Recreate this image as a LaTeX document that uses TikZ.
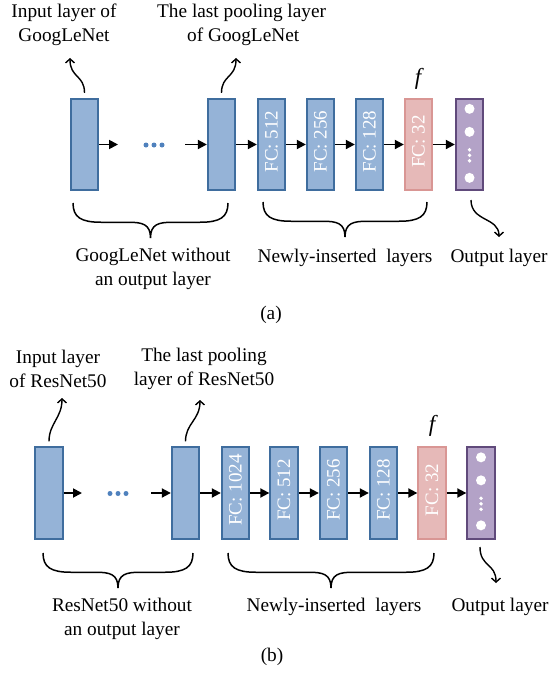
\documentclass[tikz,border=0pt]{standalone}
\usepackage{fontspec}
\setmainfont{Liberation Serif}
\usetikzlibrary{arrows.meta}

\definecolor{layerblue}{HTML}{95B3D7}
\definecolor{layerblueedge}{HTML}{3F6D9E}
\definecolor{fcpink}{HTML}{E6B9B8}
\definecolor{fcpinkedge}{HTML}{D99694}
\definecolor{outpurple}{HTML}{B3A2C7}
\definecolor{outpurpleedge}{HTML}{604A7B}
\definecolor{dotblue}{HTML}{4F81BD}

% curly brace opening downwards: left x, right x, top y, tip y
\newcommand\layerbrace[4]{%
  \pgfmathsetmacro\bmid{(#1+#2)/2}%
  \pgfmathsetmacro\bbar{#3+0.55*(#4-#3)}%
  \draw[bracestyle] (#1,#3) .. controls (#1,\bbar-5) and (#1+8,\bbar) .. (#1+28,\bbar)
    -- (\bmid-22,\bbar) .. controls (\bmid-8,\bbar) and (\bmid,\bbar+2) .. (\bmid,#4)
    .. controls (\bmid,\bbar+2) and (\bmid+8,\bbar) .. (\bmid+22,\bbar)
    -- (#2-28,\bbar) .. controls (#2-8,\bbar) and (#2,\bbar-5) .. (#2,#3);}

\begin{document}
\begin{tikzpicture}[x=1pt,y=-1pt,
  txt/.style={font=\fontsize{19.3}{24}\selectfont, inner sep=0pt, align=center},
  boxbase/.style={line width=1.8pt, minimum width=27.5pt, minimum height=91.5pt,
    inner sep=0pt, text=white, font=\fontsize{19}{19}\selectfont},
  layer/.style={boxbase, draw=layerblueedge, fill=layerblue},
  fcf/.style={boxbase, draw=fcpinkedge, fill=fcpink},
  outlayer/.style={boxbase, draw=outpurpleedge, fill=outpurple},
  flow/.style={line width=1.8pt, -{Triangle[length=9pt,width=9pt]}},
  wave/.style={line width=1.4pt, -{Straight Barb[length=4pt,width=9pt]}},
  bracestyle/.style={line width=1.5pt},
  unit/.style={circle, fill=white, inner sep=0pt, minimum size=10pt},
  tinydot/.style={circle, fill=white, inner sep=0pt, minimum size=3.8pt},
  skipdot/.style={circle, fill=dotblue, inner sep=0pt, minimum size=5pt},
  fmark/.style={font=\fontsize{23}{23}\selectfont\itshape, inner sep=0pt}
]
\useasboundingbox (0,0) rectangle (549,677);

% ---------------- (a) GoogLeNet ----------------
\node[layer] (ain)  at (84.5,144.5) {};
\node[layer] (apool) at (221.5,144.5) {};
\node[layer] (afc1) at (271.5,144.5) {\rotatebox{90}{\hspace*{6pt}FC: 512}};
\node[layer] (afc2) at (320.5,144.5) {\rotatebox{90}{\hspace*{6pt}FC: 256}};
\node[layer] (afc3) at (369.5,144.5) {\rotatebox{90}{\hspace*{6pt}FC: 128}};
\node[fcf]   (afc4) at (418.5,144.5) {\rotatebox{90}{\hspace*{6pt}FC: 32}};
\node[outlayer] (aout) at (469.5,144.5) {};

\node[unit] (aou1) at ([yshift=-11pt]aout.north) {};
\node[unit] (aou2) at ([yshift=-34pt]aout.north) {};
\node[tinydot] (aod1) at ([yshift=-52pt]aout.north) {};
\node[tinydot] (aod2) at ([yshift=-57.5pt]aout.north) {};
\node[tinydot] (aod3) at ([yshift=-63pt]aout.north) {};
\node[unit] (aou3) at ([yshift=-80pt]aout.north) {};

\node[skipdot] (ask1) at (146,145) {};
\node[skipdot] (ask2) at (154,145) {};
\node[skipdot] (ask3) at (162,145) {};

\coordinate (aa1) at (118,144.5);
\coordinate (aa2) at (185,144.5);
\draw[flow] (ain.east) -- (aa1);
\draw[flow] (aa2) -- (apool.west);
\draw[flow] (apool.east) -- (afc1.west);
\draw[flow] (afc1.east) -- (afc2.west);
\draw[flow] (afc2.east) -- (afc3.west);
\draw[flow] (afc3.east) -- (afc4.west);
\draw[flow] (afc4.east) -- (aout.west);

\node[fmark] (af) at (418,79) {f};

\node[txt] (ainlbl) at (64,25) {Input layer of\\GoogLeNet};
\node[txt, anchor=west, align=left] (apoollbl) at (157,25) {The last pooling layer\\\hspace*{30pt}of GoogLeNet};
\coordinate (ainup) at (70,58);
\coordinate (apoolup) at (236,58);
\draw[wave] ([yshift=5pt]ain.north) .. controls +(0,-18) and +(0,20) .. (ainup);
\draw[wave] ([yshift=5pt]apool.north) .. controls +(0,-18) and +(0,20) .. (apoolup);

\layerbrace{73}{228}{203}{238}
\layerbrace{263}{427}{202}{237}
\coordinate (aoutdown) at (499,237);
\draw[wave] (471,200) .. controls +(0,22) and +(0,-20) .. (aoutdown);

\node[txt] (abase) at (153,269) {GoogLeNet without\\an output layer};
\node[txt] (anew) at (345,258) {Newly-inserted\hspace{0.5em}layers};
\node[txt] (aoutlbl) at (499,258) {Output layer};
\node[txt] (acap) at (271,315) {(a)};

% ---------------- (b) ResNet50 ----------------
\node[layer] (bin)  at (49,493) {};
\node[layer] (bpool) at (185.5,493) {};
\node[layer] (bfc0) at (235.5,493) {\rotatebox{90}{\hspace*{6pt}FC: 1024}};
\node[layer] (bfc1) at (284,493) {\rotatebox{90}{\hspace*{6pt}FC: 512}};
\node[layer] (bfc2) at (333.5,493) {\rotatebox{90}{\hspace*{6pt}FC: 256}};
\node[layer] (bfc3) at (383.5,493) {\rotatebox{90}{\hspace*{6pt}FC: 128}};
\node[fcf]   (bfc4) at (432,493) {\rotatebox{90}{\hspace*{6pt}FC: 32}};
\node[outlayer] (bout) at (481,493) {};

\node[unit] (bou1) at ([yshift=-11pt]bout.north) {};
\node[unit] (bou2) at ([yshift=-34pt]bout.north) {};
\node[tinydot] (bod1) at ([yshift=-52pt]bout.north) {};
\node[tinydot] (bod2) at ([yshift=-57.5pt]bout.north) {};
\node[tinydot] (bod3) at ([yshift=-63pt]bout.north) {};
\node[unit] (bou3) at ([yshift=-79pt]bout.north) {};

\node[skipdot] (bsk1) at (110,493.5) {};
\node[skipdot] (bsk2) at (118,493.5) {};
\node[skipdot] (bsk3) at (126,493.5) {};

\coordinate (ba1) at (82,493);
\coordinate (ba2) at (151,493);
\draw[flow] (bin.east) -- (ba1);
\draw[flow] (ba2) -- (bpool.west);
\draw[flow] (bpool.east) -- (bfc0.west);
\draw[flow] (bfc0.east) -- (bfc1.west);
\draw[flow] (bfc1.east) -- (bfc2.west);
\draw[flow] (bfc2.east) -- (bfc3.west);
\draw[flow] (bfc3.east) -- (bfc4.west);
\draw[flow] (bfc4.east) -- (bout.west);

\node[fmark] (bf) at (432,426) {f};

\node[txt] (binlbl) at (58,368.5) {Input layer\\of ResNet50};
\node[txt] (bpoollbl) at (204,368.5) {The last pooling\\layer of ResNet50};
\coordinate (binup) at (62,398);
\coordinate (bpoolup) at (200,400);
\draw[wave] ([yshift=5pt]bin.north) .. controls +(0,-18) and +(0,20) .. (binup);
\draw[wave] ([yshift=5pt]bpool.north) .. controls +(0,-18) and +(0,20) .. (bpoolup);

\layerbrace{43}{193}{553}{588}
\layerbrace{228}{434}{553}{588}
\coordinate (boutdown) at (496,583);
\draw[wave] (480,547) .. controls +(0,20) and +(0,-20) .. (boutdown);

\node[txt] (bbase) at (122,618.5) {ResNet50 without\\an output layer};
\node[txt] (bnew) at (334,607) {Newly-inserted\hspace{0.5em}layers};
\node[txt] (boutlbl) at (500,607) {Output layer};
\node[txt] (bcap) at (272,657) {(b)};
\end{tikzpicture}
\end{document}
